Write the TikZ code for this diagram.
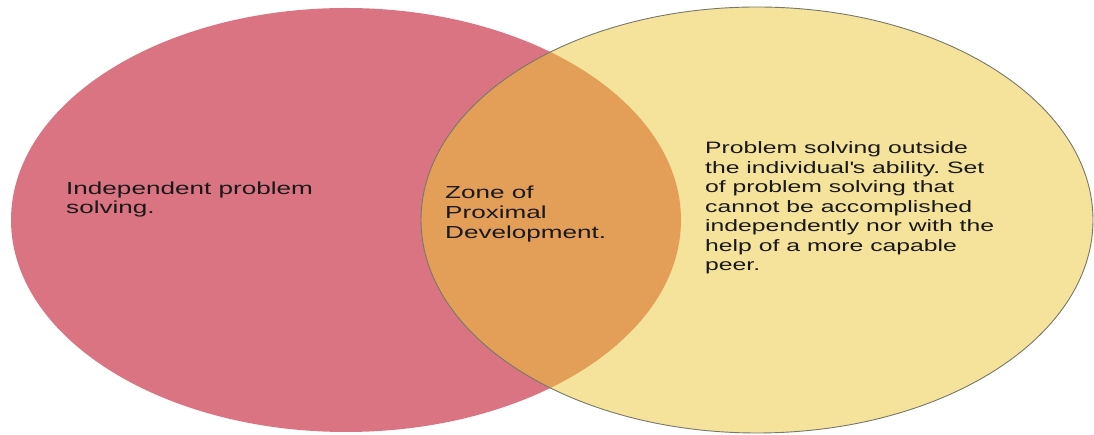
\documentclass[tikz,border=0pt]{standalone}
\usepackage{fontspec}
\setmainfont{Liberation Sans}[FakeStretch=1.5]
\usetikzlibrary{positioning}
\frenchspacing
\definecolor{indepred}{HTML}{DB7482}
\definecolor{outyellow}{HTML}{F5E29B}
\definecolor{zpdorange}{HTML}{E39E58}
\definecolor{rimgrey}{HTML}{77776A}
\tikzstyle{vtext} = [anchor=west, inner sep=0, align=left, font=\fontsize{16.5}{19.5}\selectfont, text=black!90]
\tikzstyle{bigtext} = [vtext, font=\fontsize{17.4}{19.8}\selectfont]
\tikzstyle{rim} = [rimgrey, line width=0.9]

\begin{document}
\begin{tikzpicture}[x=1pt, y=1pt]
    \useasboundingbox (0,0) rectangle (1094,435);
    % the two sets
    \fill [indepred] (346,215) ellipse [x radius=335, y radius=212];
    \fill [outyellow] (757,215) ellipse [x radius=336, y radius=213];
    % overlap
    \begin{scope}
        \clip (346,215) ellipse [x radius=335, y radius=212];
        \fill [zpdorange] (757,215) ellipse [x radius=336, y radius=213];
    \end{scope}
    \draw [rim] (757,215) ellipse [x radius=336, y radius=213];
    % texts
    \node [bigtext] (indep) at (66,235.5) {Independent problem\\solving.};
    \node [bigtext] (zpd) at (445,221) {Zone of\\Proximal\\Development.};
    \node [vtext] (outside) at (705,227) {Problem solving outside\\the individual\textquotesingle s ability. Set\\of problem solving that\\cannot be accomplished\\independently nor with the\\help of a more capable\\peer.};
\end{tikzpicture}
\end{document}
